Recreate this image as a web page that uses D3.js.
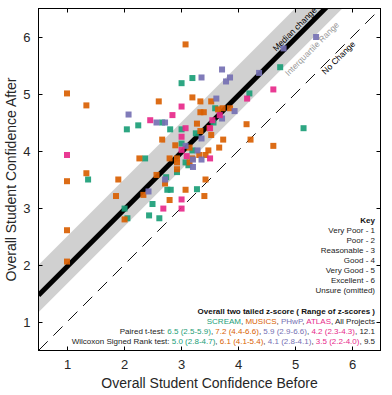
<!DOCTYPE html>
<html>
<head>
<meta charset="utf-8">
<script src="https://cdn.jsdelivr.net/npm/d3@7"></script>
<style>
  body { margin: 0; background: #fff; }
  svg text { font-family: "Liberation Sans", Arial, sans-serif; }
</style>
</head>
<body>
<div id="chart"></div>
<script>
// ticks
const xTicks = [1, 2, 3, 4, 5, 6]
const yTicks = [1, 2, 3, 4, 5, 6]

// change statistics (after - before)
const medianChange = 0.97
const lowerQuartile = 0.67
const upperQuartile = 1.5

// project series: [before, after]
const screamPoints = [
  [4.74, 5.47], [3.20, 5.28], [3.01, 5.19], [4.20, 5.01], [3.60, 4.75], [3.57, 4.50],
  [5.15, 4.40], [2.05, 4.38], [2.25, 4.45], [2.67, 4.50], [2.81, 4.38], [3.01, 4.38],
  [3.26, 4.31], [1.37, 3.50], [2.37, 3.87], [2.93, 3.63], [3.01, 4.13], [3.20, 4.01],
  [3.08, 3.80], [3.13, 3.75], [2.74, 3.54], [2.76, 3.32], [2.82, 3.32], [3.28, 3.33],
  [2.50, 3.07], [2.01, 2.99], [2.06, 2.82], [2.44, 2.87], [2.62, 2.82]
]
const musicsPoints = [
  [3.08, 5.87], [1.00, 5.01], [1.34, 4.80], [3.20, 4.94], [3.34, 4.87], [3.53, 4.87],
  [2.61, 4.87], [3.34, 4.68], [3.40, 4.68], [3.65, 4.73], [3.73, 4.75], [3.86, 4.75],
  [4.15, 4.47], [3.28, 4.48], [3.34, 4.35], [3.50, 4.40], [3.53, 4.28], [2.67, 4.20],
  [3.74, 4.20], [4.22, 4.20], [1.00, 3.47], [1.34, 3.61], [1.90, 3.50], [2.27, 3.87],
  [2.57, 3.58], [2.90, 4.10], [2.80, 3.87], [2.93, 3.87], [2.93, 3.80], [2.93, 3.68],
  [3.15, 4.06], [3.15, 3.80], [3.20, 3.87], [3.32, 3.93], [3.43, 3.93], [3.48, 4.01],
  [3.67, 4.06], [4.62, 4.09], [2.72, 3.43], [2.34, 3.23], [1.86, 3.21], [2.80, 3.14],
  [3.08, 3.32], [3.43, 3.50], [3.41, 3.21], [2.01, 2.80], [1.00, 2.61], [1.00, 2.06]
]
const phwpPoints = [
  [5.37, 6.00], [4.80, 5.80], [4.37, 5.37], [3.72, 5.43], [3.36, 5.29], [3.86, 5.29],
  [3.79, 5.22], [3.62, 4.92], [3.94, 4.70], [3.72, 4.57], [2.08, 4.64], [2.57, 4.50],
  [2.72, 4.50], [3.36, 4.22], [3.08, 4.09], [3.29, 4.01], [3.21, 3.85], [3.36, 3.85],
  [3.21, 3.72], [2.43, 3.29], [2.72, 3.50]
]
const atlasPoints = [
  [4.62, 5.08], [4.16, 4.92], [3.01, 4.78], [3.68, 4.63], [3.55, 4.54], [2.46, 4.54],
  [2.85, 4.63], [3.08, 4.40], [3.51, 4.40], [3.01, 4.25], [1.00, 3.93], [3.01, 4.02],
  [3.10, 3.91], [3.51, 3.87], [3.01, 3.15], [2.69, 2.99], [3.01, 2.99]
]

const projectNames = ["SCREAM", "MUSICS", "PHwP", "ATLAS"]
const projectColors = ["#1b9e77", "#d95f02", "#7570b3", "#e7298a"]
const projectPoints = [screamPoints, musicsPoints, phwpPoints, atlasPoints]

const keyLines = ["Very Poor - 1", "Poor - 2", "Reasonable - 3", "Good - 4",
  "Very Good - 5", "Excellent - 6", "Unsure (omitted)"]
const tTest = ["6.5 (2.5-5.9)", "7.2 (4.4-6.6)", "5.9 (2.9-6.6)", "4.2 (2.3-4.3)"]
const tTestAll = "12.1"
const wilcoxon = ["5.0 (2.8-4.7)", "6.1 (4.1-5.4)", "4.1 (2.8-4.1)", "3.5 (2.2-4.0)"]
const wilcoxonAll = "9.5"

const width = 392
const height = 395
const mLeft = 38.5, mRight = 380.5, mTop = 8.5, mBottom = 350.5

const x = d3.scaleLinear().domain([0.5, 6.5]).range([mLeft, mRight])
const y = d3.scaleLinear().domain([0.5, 6.5]).range([mBottom, mTop])

const svg = d3.select("#chart").append("svg")
  .attr("width", width)
  .attr("height", height)

svg.append("defs").append("clipPath").attr("id", "plot")
  .append("rect")
  .attr("x", mLeft).attr("y", mTop)
  .attr("width", mRight - mLeft).attr("height", mBottom - mTop)

const plot = svg.append("g").attr("clip-path", "url(#plot)")
const ends = x.domain()

// interquartile band
const band = d3.area()
  .x(d => x(d))
  .y0(d => y(d + lowerQuartile))
  .y1(d => y(d + upperQuartile))
plot.append("path").datum(ends)
  .attr("d", band)
  .attr("fill", "#d0d0d0")

// no change line
const diag = (offset) => d3.line().x(d => x(d)).y(d => y(d + offset))
plot.append("path").datum(ends)
  .attr("d", diag(0))
  .attr("fill", "none")
  .attr("stroke", "#111")
  .attr("stroke-width", 1)
  .attr("stroke-dasharray", "13,8")

// median line
plot.append("path").datum(ends)
  .attr("d", diag(medianChange))
  .attr("fill", "none")
  .attr("stroke", "#000")
  .attr("stroke-width", 5)

// points
const s = 6
projectPoints.forEach((pts, i) => {
  plot.append("g").selectAll("rect").data(pts).join("rect")
    .attr("x", d => x(d[0]) - s / 2)
    .attr("y", d => y(d[1]) - s / 2)
    .attr("width", s)
    .attr("height", s)
    .attr("fill", projectColors[i])
    .attr("fill-opacity", 0.92)
})

// line labels
function lineLabel(xv, offset, dy, txt, color) {
  svg.append("text")
    .attr("transform", `translate(${x(xv)},${y(xv + offset)}) rotate(-45)`)
    .attr("dy", dy)
    .attr("text-anchor", "middle")
    .attr("font-size", 8.5)
    .attr("fill", color)
    .text(txt)
}
lineLabel(5.08, medianChange, -4, "Median change", "#000")
lineLabel(5.21, lowerQuartile, 10, "Interquartile Range", "#999")
lineLabel(5.70, 0, 8, "No Change", "#000")

// axes
const tickStyle = g => {
  g.select(".domain").remove()
  g.selectAll(".tick line").attr("stroke", "#000")
  g.selectAll(".tick text").attr("font-size", 13).attr("fill", "#262626")
    .attr("font-family", "Liberation Sans, Arial, sans-serif")
}
svg.append("g").attr("transform", `translate(0,${mBottom})`)
  .call(d3.axisBottom(x).tickValues(xTicks).tickSize(-4).tickPadding(9).tickFormat(d3.format("d")))
  .call(tickStyle)
svg.append("g").attr("transform", `translate(0,${mTop})`)
  .call(d3.axisTop(x).tickValues(xTicks).tickSize(-4).tickFormat(""))
  .call(tickStyle)
svg.append("g").attr("transform", `translate(${mLeft},0)`)
  .call(d3.axisLeft(y).tickValues(yTicks).tickSize(-4).tickPadding(8).tickFormat(d3.format("d")))
  .call(tickStyle)
svg.append("g").attr("transform", `translate(${mRight},0)`)
  .call(d3.axisRight(y).tickValues(yTicks).tickSize(-4).tickFormat(""))
  .call(tickStyle)

svg.append("rect")
  .attr("x", mLeft).attr("y", mTop)
  .attr("width", mRight - mLeft).attr("height", mBottom - mTop)
  .attr("fill", "none").attr("stroke", "#000")

svg.append("text")
  .attr("x", (mLeft + mRight) / 2).attr("y", 388)
  .attr("text-anchor", "middle").attr("font-size", 14).attr("fill", "#262626")
  .text("Overall Student Confidence Before")
svg.append("text")
  .attr("transform", `translate(16,${(mTop + mBottom) / 2}) rotate(-90)`)
  .attr("text-anchor", "middle").attr("font-size", 14).attr("fill", "#262626")
  .text("Overall Student Confidence After")

// key
const kx = 375
svg.append("text").attr("x", kx).attr("y", 223)
  .attr("text-anchor", "end").attr("font-size", 8).attr("font-weight", "bold").attr("fill", "#111")
  .text("Key")
svg.append("g").selectAll("text").data(keyLines).join("text")
  .attr("x", kx).attr("y", (d, i) => 233 + i * 10)
  .attr("text-anchor", "end").attr("font-size", 8).attr("fill", "#222")
  .text(d => d)

svg.append("text").attr("x", kx).attr("y", 313.5)
  .attr("text-anchor", "end").attr("font-size", 8).attr("font-weight", "bold").attr("fill", "#111")
  .text("Overall two tailed z-score ( Range of z-scores )")

function statLine(yy, label, vals, all) {
  const t = svg.append("text").attr("x", kx).attr("y", yy)
    .attr("text-anchor", "end").attr("font-size", 8).attr("fill", "#222")
  if (label) t.append("tspan").text(label)
  vals.forEach((v, i) => {
    t.append("tspan").attr("fill", projectColors[i]).text(v)
    t.append("tspan").text(", ")
  })
  t.append("tspan").text(all)
}
statLine(323.5, "", projectNames, "All Projects")
statLine(333.5, "Paired t-test: ", tTest, tTestAll)
statLine(343.5, "Wilcoxon Signed Rank test: ", wilcoxon, wilcoxonAll)
</script>
</body>
</html>
